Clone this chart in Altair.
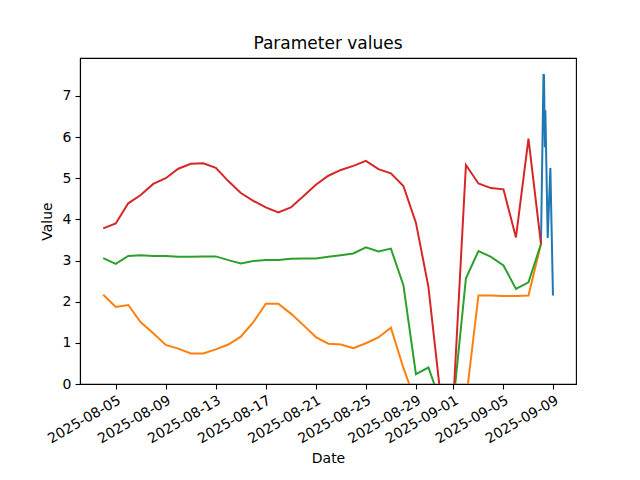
import altair as alt
import pandas as pd

# daily dates Aug 4 .. Sep 8, 2025
start = pd.Timestamp("2025-08-04")
daily_dates = [(start + pd.Timedelta(days=i)).strftime("%Y-%m-%dT00:00:00Z") for i in range(36)]

red_values = [3.78, 3.90, 4.39, 4.59, 4.86, 5.00, 5.23, 5.35, 5.36, 5.25,
              4.93, 4.64, 4.45, 4.29, 4.17, 4.29, 4.56, 4.84, 5.06, 5.20,
              5.30, 5.42, 5.22, 5.12, 4.81, 3.92, 2.36, -0.37, -0.37, 5.32,
              4.87, 4.76, 4.73, 3.56, 5.96, 3.40]
green_values = [3.06, 2.92, 3.11, 3.13, 3.11, 3.11, 3.09, 3.09, 3.10, 3.10,
                3.01, 2.93, 2.99, 3.01, 3.01, 3.04, 3.05, 3.05, 3.09, 3.13,
                3.17, 3.32, 3.22, 3.29, 2.40, 0.24, 0.40, -0.46, -0.44, 2.57,
                3.23, 3.09, 2.88, 2.31, 2.47, 3.40]
orange_values = [2.17, 1.87, 1.92, 1.50, 1.23, 0.95, 0.86, 0.74, 0.74, 0.84,
                 0.96, 1.15, 1.50, 1.95, 1.95, 1.71, 1.43, 1.14, 0.98, 0.96,
                 0.87, 0.99, 1.13, 1.37, 0.39, -0.45, -0.45, -0.45, -0.45, -0.41,
                 2.15, 2.15, 2.14, 2.14, 2.15, 3.40]

blue_dates = ["2025-09-08T00:00:00Z", "2025-09-08T04:48:00Z", "2025-09-08T05:48:00Z",
              "2025-09-08T07:30:00Z", "2025-09-08T08:24:00Z", "2025-09-08T12:54:00Z",
              "2025-09-08T18:00:00Z", "2025-09-08T23:00:00Z"]
blue_values = [3.40, 7.53, 7.50, 5.75, 6.65, 3.55, 5.25, 2.15]

tick_dates = ["2025-08-05", "2025-08-09", "2025-08-13", "2025-08-17", "2025-08-21",
              "2025-08-25", "2025-08-29", "2025-09-01", "2025-09-05", "2025-09-09"]
y_ticks = [0, 1, 2, 3, 4, 5, 6, 7]

FONT = "DejaVu Sans"


def dt(s):
    y, m, d = s.split("-")
    return alt.DateTime(year=int(y), month=int(m), date=int(d), utc=True)


x_domain = [alt.DateTime(year=2025, month=8, date=2, hours=3, minutes=26, utc=True),
            alt.DateTime(year=2025, month=9, date=10, hours=19, minutes=12, utc=True)]

x_enc = alt.X("date:T", title="Date",
              scale=alt.Scale(type="utc", domain=x_domain),
              axis=alt.Axis(values=[dt(s) for s in tick_dates],
                            labelExpr="utcFormat(datum.value, '%Y-%m-%d')",
                            labelAngle=-30, labelAlign="right", labelBaseline="top",
                            labelOverlap=False))
y_enc = alt.Y("value:Q", title="Value",
              scale=alt.Scale(domain=[0, 7.92], nice=False, zero=False),
              axis=alt.Axis(values=y_ticks, format="d"))


def series(dates, values, color):
    df = pd.DataFrame({"date": dates, "value": values})
    return alt.Chart(df).mark_line(color=color, strokeWidth=2, clip=True).encode(x=x_enc, y=y_enc)


chart = alt.layer(
    series(blue_dates, blue_values, "#1f77b4"),
    series(daily_dates, orange_values, "#ff7f0e"),
    series(daily_dates, green_values, "#2ca02c"),
    series(daily_dates, red_values, "#d62728"),
).properties(
    width=496, height=326,
    title=alt.TitleParams("Parameter values", fontSize=17, fontWeight="normal",
                          font=FONT, color="black", offset=5),
    autosize=alt.AutoSizeParams(type="none"),
    padding={"left": 72, "top": 50, "right": 56, "bottom": 88},
).configure_view(
    stroke="black", strokeWidth=1.1
).configure_axis(
    grid=False, domainColor="black", domainWidth=1.1, tickColor="black", tickWidth=1.1,
    tickSize=5, labelFont=FONT, labelFontSize=14, labelColor="black", labelPadding=4,
    titleFont=FONT, titleFontSize=14, titleFontWeight="normal", titleColor="black",
).configure_axisY(titlePadding=8).configure_axisX(titlePadding=6)

chart.save("out.html", embed_options={"renderer": "svg", "actions": False})
